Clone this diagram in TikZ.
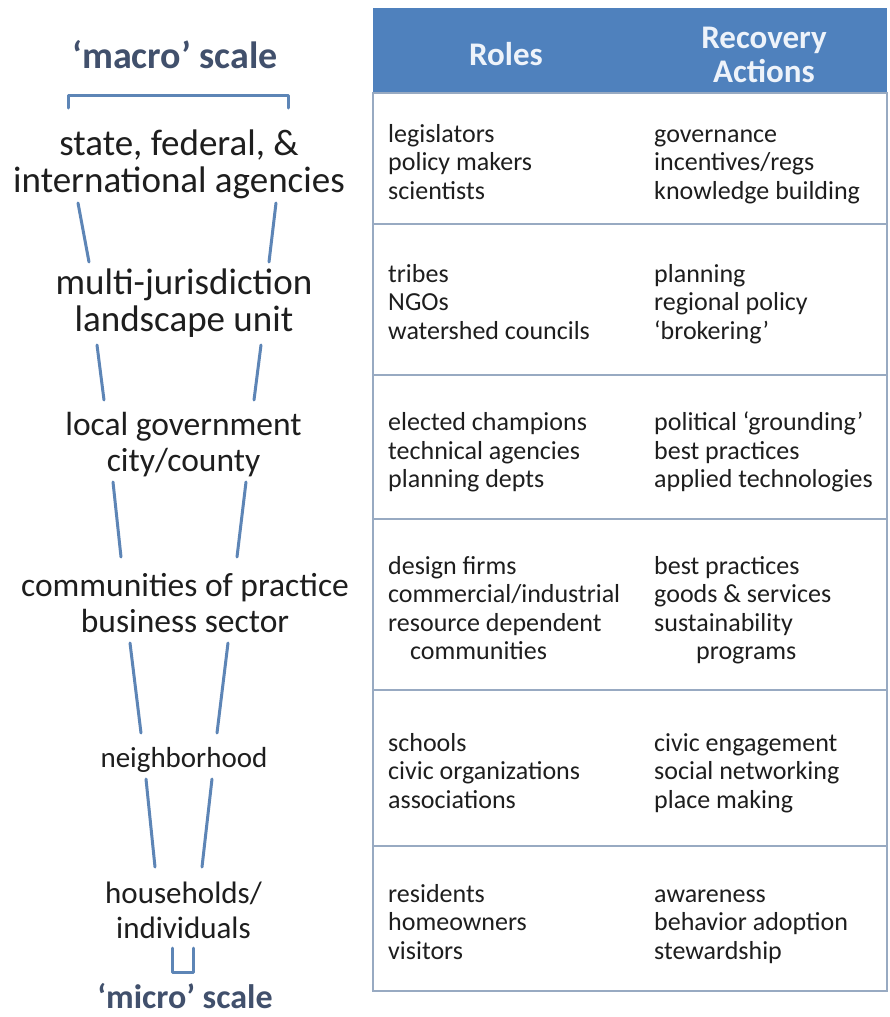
\documentclass[tikz,border=0pt]{standalone}
\usepackage{fontspec}
\setmainfont{Carlito}
\definecolor{hdrblue}{HTML}{4F81BD}
\definecolor{hdrtext}{HTML}{EEF3FA}
\definecolor{scaletext}{HTML}{41506C}
\definecolor{funnel}{HTML}{5D85B6}
\definecolor{gridline}{HTML}{98AAC2}
\definecolor{bodytext}{HTML}{1E1E1E}
\tikzset{
  cell/.style={anchor=west, align=left, inner sep=0pt, text=bodytext, font=\fontsize{26}{28.5}\selectfont},
  biglevel/.style={align=center, inner sep=0pt, text=bodytext, font=\fontsize{37}{35}\selectfont},
  level/.style={align=center, inner sep=0pt, text=bodytext, font=\fontsize{33.5}{36}\selectfont},
  smalllevel/.style={align=center, inner sep=0pt, text=bodytext, font=\fontsize{29}{36}\selectfont},
  hhlevel/.style={align=center, inner sep=0pt, text=bodytext, font=\fontsize{31}{35}\selectfont},
  scalelabel/.style={inner sep=0pt, text=scaletext, font=\fontsize{34}{40}\selectfont\bfseries},
  hdr/.style={align=center, inner sep=0pt, text=hdrtext, font=\fontsize{33}{34}\selectfont\bfseries},
  funnelline/.style={draw=funnel, line width=3pt, line cap=round, line join=round},
  grid/.style={draw=gridline, line width=1.2pt}
}
\begin{document}
\begin{tikzpicture}[x=1pt,y=-1pt]
\useasboundingbox (0,0) rectangle (889,1017);
\fill[white] (0,0) rectangle (889,1017);
% table header
\fill[hdrblue] (373,8) rectangle (887,93);
\node[hdr] (hroles) at (506,54) {Roles};
\node[hdr] (hactions) at (764,55) {Recovery\\Actions};
% table grid
\draw[grid] (373,93) rectangle (887,991);
\foreach \yy in {224,375,519,690,846} \draw[grid] (373,\yy) -- (887,\yy);
% rows
\node[cell] (r1a) at (388,165) {\strut legislators\\policy makers\\scientists\strut};
\node[cell] (r1b) at (654,165) {\strut governance\\incentives/regs\\knowledge building\strut};
\node[cell] (r2a) at (388,305) {\strut tribes\\NGOs\\watershed councils\strut};
\node[cell] (r2b) at (654,305) {\strut planning\\regional policy\\‘brokering’\strut};
\node[cell] (r3a) at (388,453.5) {\strut elected champions\\technical agencies\\planning depts\strut};
\node[cell] (r3b) at (654,453.5) {\strut political ‘grounding’\\best practices\\applied technologies\strut};
\node[cell] (r4a) at (388,611.5) {\strut design firms\\commercial/industrial\\resource dependent\\\hspace*{22pt}communities\strut};
\node[cell] (r4b) at (654,611.5) {\strut best practices\\goods \& services\\sustainability\\\hspace*{42pt}programs\strut};
\node[cell] (r5a) at (388,774) {\strut schools\\civic organizations\\associations\strut};
\node[cell] (r5b) at (654,774) {\strut civic engagement\\social networking\\place making\strut};
\node[cell] (r6a) at (388,925) {\strut residents\\homeowners\\visitors\strut};
\node[cell] (r6b) at (654,925) {\strut awareness\\behavior adoption\\stewardship\strut};
% left scale labels
\node[scalelabel, font=\fontsize{38}{42}\selectfont\bfseries] (macro) at (175,55) {‘macro’ scale};
\node[biglevel] (l1) at (179,166) {\strut state, federal, \&\\international agencies\strut};
\node[biglevel] (l2) at (184,305) {\strut multi-jurisdiction\\landscape unit\strut};
\node[level] (l3) at (183.5,446) {\strut local government\\city/county\strut};
\node[level] (l4) at (185,607.5) {\strut communities of practice\\business sector\strut};
\node[smalllevel] (l5) at (184,760) {\strut neighborhood\strut};
\node[hhlevel] (l6) at (183.5,914) {\strut households/\\individuals\strut};
\node[scalelabel, anchor=base] (micro) at (185,1008) {‘micro’ scale};
% funnel
\draw[funnelline] (68,108) -- (68,95) -- (288,95) -- (288,108);
\draw[funnelline] (78,203) -- (89,262);
\draw[funnelline] (276,203) -- (269,262);
\draw[funnelline] (97,345) -- (104,400);
\draw[funnelline] (261,345) -- (254,400);
\draw[funnelline] (113,482) -- (121,557);
\draw[funnelline] (246,482) -- (237,557);
\draw[funnelline] (130,643) -- (141,733);
\draw[funnelline] (228,643) -- (217,733);
\draw[funnelline] (146,779) -- (155,867);
\draw[funnelline] (212,779) -- (202,867);
\draw[funnelline] (172,948) -- (172,972) -- (193,972) -- (193,948);
\end{tikzpicture}
\end{document}
